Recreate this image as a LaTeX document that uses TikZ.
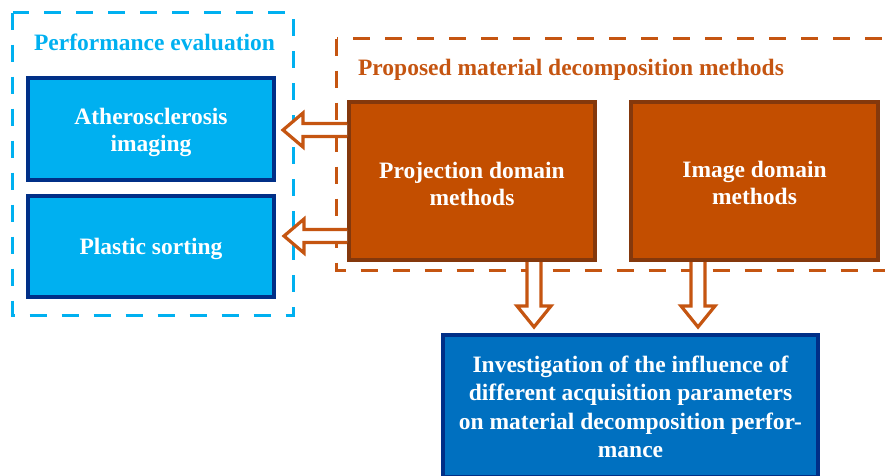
\documentclass[tikz,border=0pt]{standalone}
\usepackage{fontspec}
\setmainfont{Liberation Serif}
\usetikzlibrary{calc}
\definecolor{cyanB}{RGB}{0,176,240}
\definecolor{navyB}{RGB}{0,47,135}
\definecolor{midB}{RGB}{0,112,192}
\definecolor{orgF}{RGB}{195,78,0}
\definecolor{orgD}{RGB}{132,56,12}
\definecolor{orgL}{RGB}{197,85,17}
\begin{document}
\begin{tikzpicture}[x=1pt,y=-1pt,
  boxtext/.style={text=white, font=\bfseries\fontsize{23.5}{27}\selectfont, align=center, inner sep=0pt},
  bluebox/.style={draw=navyB, line width=4pt, fill=cyanB},
  orgbox/.style={draw=orgD, line width=4pt, fill=orgF},
  invbox/.style={draw=navyB, line width=4pt, fill=midB},
  group/.style={line width=3.5pt, dash pattern=on 17pt off 15pt},
  grouptitle/.style={font=\bfseries\fontsize{23.5}{27}\selectfont, inner sep=0pt, anchor=base},
  hollow/.style={draw=orgL, fill=white, line width=3.2pt, line join=miter}
]
\useasboundingbox (0,0) rectangle (885,475);
% group frames
\draw[group, draw=cyanB] (12.5,12.5) rectangle (293.5,315.5);
\draw[group, draw=orgL] (336.5,38.5) rectangle (905,270.5);
\node[grouptitle, text=cyanB] (pe) at (154.5,50.5) {Performance evaluation};
\node[grouptitle, text=orgL] (pm) at (571,75.5) {Proposed material decomposition methods};
% boxes
\node[bluebox, minimum width=246, minimum height=102] (ath) at (151,129) {};
\node[bluebox, minimum width=246, minimum height=101] (pla) at (151,246.5) {};
\node[orgbox, minimum width=246, minimum height=158] (proj) at (472,181) {};
\node[orgbox, minimum width=247, minimum height=158] (img) at (754.5,181) {};
\node[invbox, minimum width=375, minimum height=142] (inv) at (630.5,406) {};
% box texts
\node[boxtext] (athT) at ($(ath.center)+(0,3)$) {Atherosclerosis\\imaging};
\node[boxtext] (plaT) at ($(pla.center)+(0,2)$) {Plastic sorting};
\node[boxtext] (projT) at ($(proj.center)+(0,3)$) {Projection domain\\methods};
\node[boxtext] (imgT) at ($(img.center)+(0,2)$) {Image domain\\methods};
\node[boxtext, font=\bfseries\fontsize{23.5}{28.5}\selectfont] (invT) at ($(inv.center)+(0,1)$) {Investigation of the influence of\\different acquisition parameters\\on material decomposition perfor-\\mance};
% arrow end points
\coordinate (l1t) at ($(proj.west)+(0,-51)$);
\coordinate (l1h) at ($(l1t -| ath.east)+(7,0)$);
\coordinate (l2t) at ($(proj.west)+(0,55)$);
\coordinate (l2h) at ($(l2t -| pla.east)+(8,0)$);
\coordinate (d1t) at ($(proj.south)+(62,0)$);
\coordinate (d1h) at ($(d1t |- inv.north)+(0,-6)$);
\coordinate (d2t) at ($(img.south)+(-56.5,0)$);
\coordinate (d2h) at ($(d2t |- inv.north)+(0,-6)$);
% hollow block arrows
\foreach \t/\h in {l1t/l1h, l2t/l2h}{
  \draw[hollow] let \p1=(\t), \p2=(\h) in
    (\x1,\y1+6.5pt) -- (\x2+20pt,\y1+6.5pt) -- (\x2+20pt,\y1+17pt) -- (\x2,\y1)
    -- (\x2+20pt,\y1-17pt) -- (\x2+20pt,\y1-6.5pt) -- (\x1,\y1-6.5pt);
}
\foreach \t/\h in {d1t/d1h, d2t/d2h}{
  \draw[hollow] let \p1=(\t), \p2=(\h) in
    (\x1-7pt,\y1) -- (\x1-7pt,\y2+21pt) -- (\x1-17pt,\y2+21pt) -- (\x1,\y2)
    -- (\x1+17pt,\y2+21pt) -- (\x1+7pt,\y2+21pt) -- (\x1+7pt,\y1);
}
\end{tikzpicture}
\end{document}
